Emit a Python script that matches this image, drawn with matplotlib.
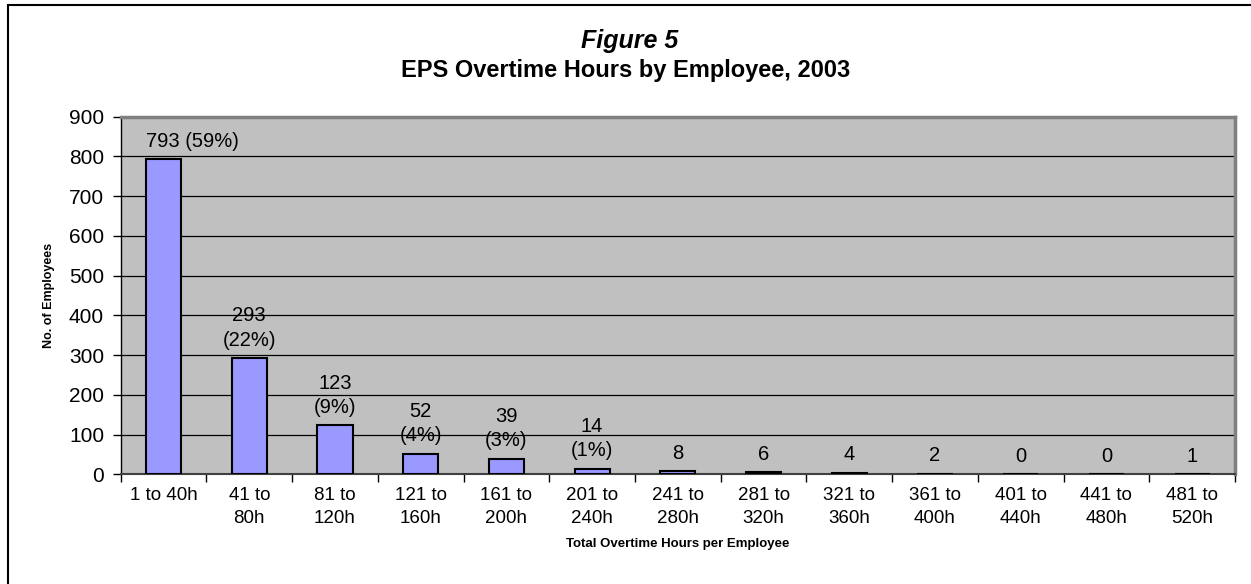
import matplotlib
matplotlib.use("Agg")
import matplotlib.pyplot as plt
import numpy as np

plt.rcParams['font.family'] = ['Liberation Sans', 'DejaVu Sans']

categories = ['1 to 40h', '41 to\n80h', '81 to\n120h', '121 to\n160h', '161 to\n200h',
              '201 to\n240h', '241 to\n280h', '281 to\n320h', '321 to\n360h',
              '361 to\n400h', '401 to\n440h', '441 to\n480h', '481 to\n520h']
employees = [793, 293, 123, 52, 39, 14, 8, 6, 4, 2, 0, 0, 1]
percents = ['59%', '22%', '9%', '4%', '3%', '1%', None, None, None, None, None, None, None]

fig = plt.figure(figsize=(12.51, 5.84), dpi=100)
ax = fig.add_axes([0.0965, 0.1878, 0.8907, 0.6124])

# outer chart border (cut off at right and bottom like the source)
fig.patches.append(plt.Rectangle((8 / 1251, -0.05), 1.1, (579 / 584) + 0.05,
                                 transform=fig.transFigure, fill=False,
                                 edgecolor='black', linewidth=1.5))

x = np.arange(len(categories))
bw = 0.41
ax.set_facecolor('#C0C0C0')
ax.bar(x, employees, width=bw, color='#9999FF', edgecolor='black',
       linewidth=1.5, zorder=3)

for i, v in enumerate(employees):
    if percents[i] is None:
        lab = str(v)
    elif i == 0:
        lab = f"{v} ({percents[i]})"
    else:
        lab = f"{v}\n({percents[i]})"
    # first label is pushed right so it stays inside the plot area
    xpos, ha = (i - bw / 2, 'left') if i == 0 else (i, 'center')
    ax.annotate(lab, (xpos, v), xytext=(0, 6), textcoords='offset points',
                ha=ha, va='bottom', fontsize=14.5, linespacing=1.35,
                zorder=4)

ax.set_xlim(-0.5, len(categories) - 0.5)
ax.set_ylim(0, 900)
ax.set_yticks(range(0, 901, 100))
ax.yaxis.grid(True, color='black', linewidth=0.9, zorder=1)
ax.set_axisbelow(True)
ax.tick_params(axis='y', labelsize=15, length=6, width=1, direction='out', pad=6)

ax.set_xticks(x)
ax.set_xticklabels(categories, fontsize=13.5, linespacing=1.5)
ax.tick_params(axis='x', length=0, pad=9)
ax.set_xticks(np.arange(-0.5, len(categories), 1), minor=True)
ax.tick_params(axis='x', which='minor', length=6, width=1, direction='out')

for s in ['top', 'right']:
    ax.spines[s].set_color('#808080')
    ax.spines[s].set_linewidth(2.5)
ax.spines['left'].set_color('black')
ax.spines['bottom'].set_color('#404040')
ax.spines['left'].set_linewidth(1)
ax.spines['bottom'].set_linewidth(1.5)

ax.set_ylabel('No. of Employees', fontsize=9, fontweight='bold', labelpad=10)
ax.set_xlabel('Total Overtime Hours per Employee', fontsize=9.5, fontweight='bold',
              labelpad=8)

fig.text(0.503, 1 - 48 / 584, 'Figure 5', ha='center', va='baseline',
         fontsize=18, fontweight='bold', fontstyle='italic')
fig.text(0.5, 1 - 77 / 584, 'EPS Overtime Hours by Employee, 2003', ha='center',
         va='baseline', fontsize=17, fontweight='bold')

fig.savefig('out.png', dpi=100)
